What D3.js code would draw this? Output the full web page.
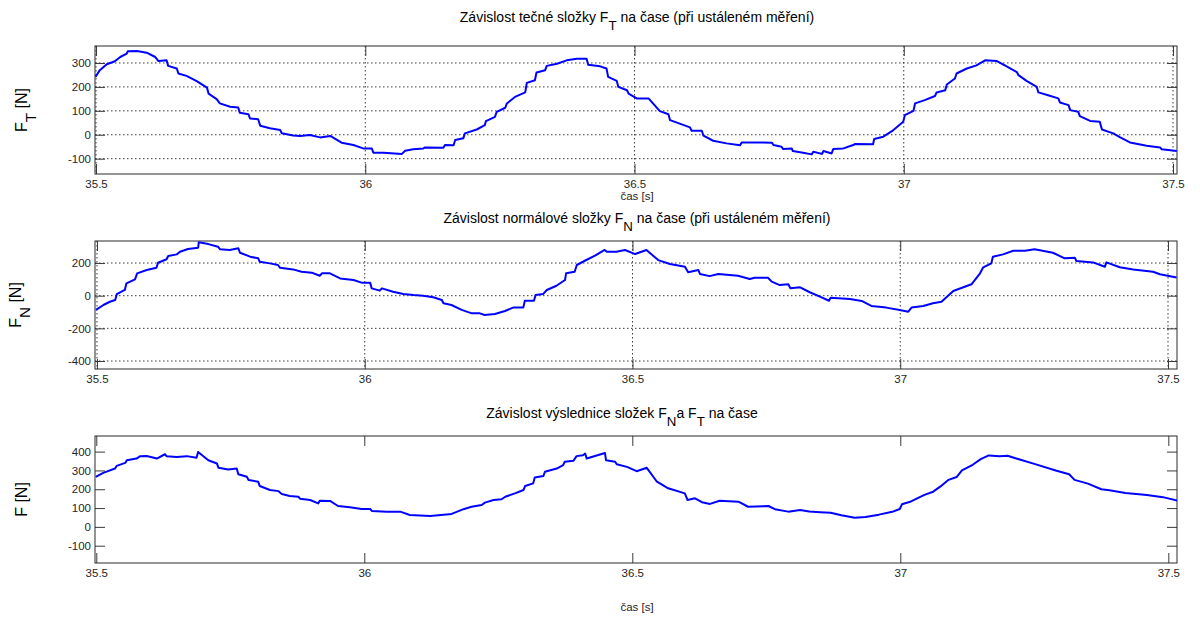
<!DOCTYPE html>
<html>
<head>
<meta charset="utf-8">
<script src="https://cdn.jsdelivr.net/npm/d3@7"></script>
<style>
body { margin: 0; background: #fff; }
svg { font-family: Arial, "Liberation Sans", Helvetica, sans-serif; }
</style>
</head>
<body>
<div id="chart"></div>
<script>
//Ticks
const xTicks = [35.5, 36, 36.5, 37, 37.5];
const ticksFT = [-100, 0, 100, 200, 300];
const ticksFN = [-400, -200, 0, 200];
const ticksF = [-100, 0, 100, 200, 300, 400];

//Tecna slozka F_T
const timeFT = [
    35.499,35.507,35.520,35.535,35.545,35.557,35.559,35.576,35.594,35.610,
    35.616,35.631,35.634,35.650,35.653,35.668,35.687,35.706,35.709,35.724,
    35.730,35.749,35.764,35.767,35.783,35.786,35.801,35.805,35.823,35.842,
    35.845,35.866,35.879,35.897,35.916,35.935,35.956,35.978,35.996,36.012,
    36.015,36.034,36.068,36.074,36.089,36.108,36.111,36.145,36.148,36.164,
    36.167,36.182,36.185,36.207,36.222,36.224,36.241,36.244,36.260,36.263,
    36.278,36.297,36.300,36.315,36.318,36.334,36.337,36.356,36.374,36.393,
    36.411,36.414,36.436,36.448,36.451,36.467,36.470,36.486,36.489,36.504,
    36.526,36.547,36.563,36.566,36.603,36.606,36.625,36.628,36.646,36.671,
    36.696,36.699,36.755,36.758,36.773,36.776,36.792,36.794,36.813,36.829,
    36.832,36.848,36.851,36.866,36.869,36.888,36.906,36.909,36.943,36.945,
    36.962,36.978,36.999,37.002,37.018,37.021,37.039,37.058,37.061,37.077,
    37.080,37.095,37.098,37.117,37.135,37.151,37.173,37.191,37.210,37.213,
    37.228,37.247,37.250,37.268,37.287,37.290,37.306,37.309,37.324,37.327,
    37.346,37.364,37.368,37.389,37.402,37.420,37.451,37.476,37.479,37.507
];
const valFT = [
    242,270,295,307,325,339,349,350,343,325,
    308,311,288,277,256,246,224,197,172,149,
    131,117,114,92,86,68,65,38,27,20,
    6,-3,-5,-1,-11,-5,-33,-43,-57,-57,
    -75,-75,-80,-67,-61,-57,-53,-54,-43,-44,
    -22,-15,6,22,40,57,75,96,113,131,
    158,177,217,228,260,270,288,297,311,318,
    318,293,286,277,242,225,200,186,172,152,
    152,99,86,61,31,17,17,-4,-25,-36,
    -44,-32,-33,-43,-50,-60,-57,-68,-75,-82,
    -71,-80,-68,-78,-60,-57,-43,-39,-40,-18,
    -8,15,54,82,100,131,145,162,177,186,
    210,235,256,277,290,311,308,286,262,249,
    225,200,177,165,152,135,124,103,96,78,
    58,54,22,6,-11,-32,-46,-53,-61,-68
];

//Normalova slozka F_N
const timeFN = [
    35.498,35.512,35.524,35.534,35.537,35.552,35.555,35.571,35.575,35.593,
    35.611,35.614,35.630,35.633,35.649,35.655,35.670,35.689,35.690,35.708,
    35.726,35.730,35.748,35.764,35.767,35.786,35.801,35.804,35.823,35.838,
    35.842,35.866,35.882,35.901,35.916,35.920,35.935,35.954,35.979,35.994,
    36.010,36.013,36.028,36.032,36.053,36.072,36.091,36.109,36.128,36.144,
    36.147,36.162,36.181,36.200,36.215,36.224,36.243,36.262,36.277,36.296,
    36.299,36.316,36.319,36.333,36.340,36.358,36.374,36.376,36.392,36.396,
    36.411,36.430,36.448,36.452,36.470,36.486,36.505,36.526,36.548,36.570,
    36.598,36.604,36.623,36.626,36.644,36.660,36.697,36.719,36.728,36.753,
    36.760,36.775,36.791,36.795,36.813,36.831,36.850,36.867,36.870,36.906,
    36.928,36.946,36.974,36.999,37.015,37.021,37.043,37.061,37.077,37.099,
    37.133,37.149,37.155,37.170,37.173,37.192,37.211,37.233,37.251,37.285,
    37.307,37.326,37.329,37.360,37.382,37.385,37.410,37.435,37.472,37.485,
    37.516
];
const valFN = [
    -87,-57,-37,-26,9,35,76,100,137,157,
    171,202,223,243,253,269,286,294,327,316,
    300,284,280,290,263,239,229,208,198,188,
    171,161,147,141,122,137,137,106,96,80,
    80,45,31,45,24,10,4,0,-10,-26,
    -46,-57,-87,-108,-108,-118,-112,-94,-73,-73,
    -31,-31,4,10,35,61,96,137,147,188,
    214,245,280,269,269,280,255,280,218,194,
    177,143,157,133,120,133,122,102,110,110,
    86,65,70,45,51,21,-6,-31,-12,-20,
    -32,-63,-73,-87,-98,-73,-63,-46,-37,29,
    70,137,174,198,239,253,275,275,284,263,
    229,232,212,204,177,204,174,161,147,131,
    112
];

//Vyslednice F
const timeF = [
    35.499,35.513,35.535,35.538,35.554,35.557,35.575,35.582,35.594,35.613,
    35.628,35.631,35.650,35.669,35.687,35.690,35.709,35.725,35.728,35.746,
    35.762,35.765,35.781,35.784,35.802,35.805,35.824,35.840,35.846,35.861,
    35.877,35.880,35.899,35.914,35.917,35.936,35.951,35.973,35.995,36.011,
    36.014,36.042,36.067,36.085,36.123,36.163,36.185,36.200,36.219,36.225,
    36.241,36.256,36.263,36.281,36.297,36.300,36.315,36.318,36.334,36.337,
    36.359,36.371,36.374,36.390,36.396,36.408,36.412,36.415,36.449,36.451,
    36.468,36.471,36.490,36.508,36.527,36.546,36.567,36.598,36.603,36.617,
    36.630,36.645,36.663,36.698,36.716,36.754,36.766,36.791,36.813,36.830,
    36.850,36.870,36.890,36.915,36.935,36.960,36.985,36.999,37.003,37.020,
    37.045,37.060,37.075,37.090,37.105,37.115,37.135,37.150,37.165,37.185,
    37.200,37.215,37.250,37.290,37.315,37.325,37.350,37.375,37.390,37.420,
    37.460,37.490,37.517
];
const valF = [
    266,287,310,324,340,354,363,376,377,363,
    386,376,372,376,367,398,354,337,314,305,
    310,280,266,249,240,217,196,190,175,164,
    160,150,143,125,139,138,111,104,95,95,
    85,81,81,63,58,69,94,107,116,129,
    143,147,160,178,196,217,231,263,270,293,
    310,328,346,351,376,381,390,363,393,354,
    346,333,319,296,314,240,205,178,143,152,
    131,122,139,134,107,111,94,81,90,82,
    78,75,62,48,52,65,80,95,120,135,
    170,185,215,250,265,300,330,360,380,375,
    378,365,335,300,280,250,230,200,195,180,
    170,158,140
];

//Dimensiones
const width = 1200, height = 617;
const left = 95, right = 1177;

let svg = d3.select('#chart')
    .append('svg')
    .attr('width', width)
    .attr('height', height);

let panels = [
    {
        id: 'ft', t: timeFT, v: valFT, top: 46, bottom: 174,
        xDom: [35.4981, 37.5074], yDom: [-164, 371], yTicks: ticksFT, grid: true,
        title: ['Závislost tečné složky F', {sub: 'T'}, ' na čase (při ustáleném měření)'], titleY: 22, titleX: 637,
        ylabel: ['F', {sub: 'T'}, ' [N]'], ylabelX: 27, xlabelY: 200
    },
    {
        id: 'fn', t: timeFN, v: valFN, top: 241, bottom: 369,
        xDom: [35.4963, 37.5168], yDom: [-449, 335], yTicks: ticksFN, grid: true,
        title: ['Závislost normálové složky F', {sub: 'N'}, ' na čase (při ustáleném měření)'], titleY: 223, titleX: 637,
        ylabel: ['F', {sub: 'N'}, ' [N]'], ylabelX: 21, xlabelY: null
    },
    {
        id: 'f', t: timeF, v: valF, top: 436, bottom: 563,
        xDom: [35.4976, 37.5162], yDom: [-192, 483], yTicks: ticksF, grid: false,
        title: ['Závislost výslednice složek F', {sub: 'N'}, 'a F', {sub: 'T'}, ' na čase'], titleY: 418, titleX: 622,
        ylabel: ['F [N]'], ylabelX: 27, xlabelY: 611
    }
];

//Texto con subindices
function richText(sel, parts, size, shift) {
    let back = 0;
    parts.forEach(function(p) {
        if (typeof p === 'string') {
            sel.append('tspan').attr('dy', back).text(p);
            back = 0;
        } else {
            sel.append('tspan').attr('dy', shift).attr('font-size', size * 0.95).text(p.sub);
            back = -shift;
        }
    });
}

function drawPanel(p) {
    let x = d3.scaleLinear().domain(p.xDom).range([left, right]);
    let y = d3.scaleLinear().domain(p.yDom).range([p.bottom, p.top]);
    let g = svg.append('g');

    g.append('clipPath').attr('id', 'clip-' + p.id)
        .append('rect')
        .attr('x', left).attr('y', p.top)
        .attr('width', right - left).attr('height', p.bottom - p.top);

    //Rejilla punteada
    if (p.grid) {
        g.append('g').selectAll('line').data(xTicks).join('line')
            .attr('x1', d => x(d)).attr('x2', d => x(d))
            .attr('y1', p.top).attr('y2', p.bottom)
            .attr('stroke', '#3a3a3a').attr('stroke-width', 1)
            .attr('stroke-dasharray', '1.5,2.5');
        g.append('g').selectAll('line').data(p.yTicks).join('line')
            .attr('x1', left).attr('x2', right)
            .attr('y1', d => y(d)).attr('y2', d => y(d))
            .attr('stroke', '#3a3a3a').attr('stroke-width', 1)
            .attr('stroke-dasharray', '1.5,2.5');
    }

    //Ejes con marcas hacia dentro
    let fmt = d => String(d);
    let axB = g.append('g').attr('transform', 'translate(0,' + p.bottom + ')')
        .call(d3.axisBottom(x).tickValues(xTicks).tickSize(-10).tickPadding(6).tickFormat(fmt));
    let axT = g.append('g').attr('transform', 'translate(0,' + p.top + ')')
        .call(d3.axisTop(x).tickValues(xTicks).tickSize(-10).tickFormat(''));
    let axL = g.append('g').attr('transform', 'translate(' + left + ',0)')
        .call(d3.axisLeft(y).tickValues(p.yTicks).tickSize(-10).tickPadding(4).tickFormat(fmt));
    let axR = g.append('g').attr('transform', 'translate(' + right + ',0)')
        .call(d3.axisRight(y).tickValues(p.yTicks).tickSize(-10).tickFormat(''));

    [axB, axT, axL, axR].forEach(function(a) {
        a.select('.domain').remove();
        a.selectAll('line').attr('stroke', '#3a3a3a');
        a.selectAll('text').attr('fill', '#262626').attr('font-size', 11.5)
            .attr('font-family', 'Arial, "Liberation Sans", sans-serif');
    });

    //Marco
    g.append('rect')
        .attr('x', left).attr('y', p.top)
        .attr('width', right - left).attr('height', p.bottom - p.top)
        .attr('fill', 'none').attr('stroke', '#2b2b2b').attr('stroke-width', 1);

    //Serie
    let line = d3.line()
        .x(d => x(d[0]))
        .y(d => y(d[1]));

    g.append('path')
        .datum(d3.zip(p.t, p.v))
        .attr('clip-path', 'url(#clip-' + p.id + ')')
        .attr('fill', 'none')
        .attr('stroke', '#0000ff')
        .attr('stroke-width', 2)
        .attr('stroke-linejoin', 'round')
        .attr('d', line);

    //Titulo
    let title = g.append('text')
        .attr('x', p.titleX).attr('y', p.titleY)
        .attr('text-anchor', 'middle')
        .attr('font-size', 14).attr('fill', '#000');
    richText(title, p.title, 14, 8);

    //Etiqueta eje Y
    let cy = (p.top + p.bottom) / 2;
    let yl = g.append('text')
        .attr('transform', 'translate(' + p.ylabelX + ',' + cy + ') rotate(-90)')
        .attr('text-anchor', 'middle')
        .attr('font-size', 16).attr('fill', '#000');
    richText(yl, p.ylabel, 16, 9);

    //Etiqueta eje X
    if (p.xlabelY) {
        g.append('text')
            .attr('x', 637).attr('y', p.xlabelY)
            .attr('text-anchor', 'middle')
            .attr('font-size', 11.5).attr('fill', '#262626')
            .text('čas [s]');
    }
}

panels.forEach(drawPanel);
</script>
</body>
</html>
